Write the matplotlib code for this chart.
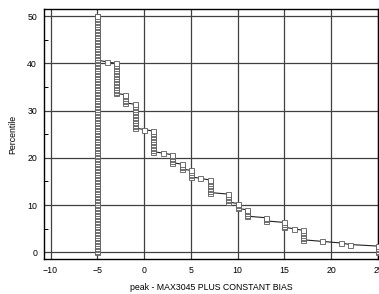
import numpy as np
import matplotlib.pyplot as plt

# peak - MAX3045 plus constant bias: distinct values and how many samples hold each
peak_values = [25, 22, 21, 19, 17, 16, 15, 13, 11, 10, 9, 7, 6, 5, 4, 3, 2, 1, 0, -1, -2, -3, -4, -5]
peak_counts = [5, 1, 1, 1, 7, 1, 4, 3, 5, 4, 6, 9, 1, 5, 4, 6, 1, 14, 1, 16, 6, 20, 1, 178]

# constant bias only: every sample sits at -5
bias_values = [-5]
bias_counts = [300]

x_ticks = [-10, -5, 0, 5, 10, 15, 20, 25]
y_ticks = [0, 10, 20, 30, 40, 50]


def percentile_curve(values, counts, p_max=50):
    samples = np.repeat(values, counts)
    pct = 100.0 * np.arange(len(samples)) / len(samples)
    keep = pct <= p_max + 1e-9
    return samples[keep], pct[keep]


plt.rcParams['font.family'] = ['Liberation Sans', 'DejaVu Sans']

fig = plt.figure(figsize=(3.79, 2.94), dpi=100)
ax = fig.add_axes([44 / 379, 35 / 294, 334 / 379, 250 / 294])

style = dict(color='#222222', lw=0.8, marker='s', markersize=3.6,
             markerfacecolor='white', markeredgecolor='#5a5a5a', markeredgewidth=0.6)

bx, by = percentile_curve(bias_values, bias_counts)
ax.plot(bx, by, zorder=3, **style)
px, py = percentile_curve(peak_values, peak_counts)
ax.plot(px, py, zorder=4, **style)

ax.set_xlim(-10.7, 25)
ax.set_ylim(-1.4, 51.5)
ax.set_xticks(x_ticks)
ax.set_yticks(y_ticks)
ax.set_yticks([5, 15, 25, 35, 45], minor=True)
ax.grid(True, which='major', color='#404040', lw=0.9)
ax.set_axisbelow(True)

ax.tick_params(axis='both', which='major', length=0, labelsize=6.3, pad=5)
ax.tick_params(axis='y', which='minor', direction='in', length=3, width=0.7)
for s in ax.spines.values():
    s.set_linewidth(1.0)
    s.set_color('black')

ax.set_xlabel('peak - MAX3045 PLUS CONSTANT BIAS', fontsize=6.3, labelpad=6)
ax.set_ylabel('Percentile', fontsize=6.3, labelpad=7)

fig.savefig('out.png', dpi=100)
